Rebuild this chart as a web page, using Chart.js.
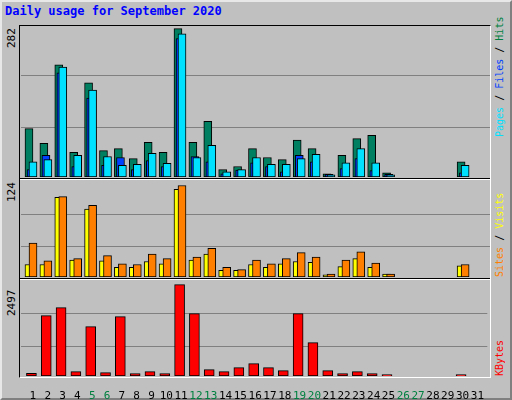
<!DOCTYPE html>
<html>
<head>
<meta charset="utf-8">
<script src="https://cdn.jsdelivr.net/npm/chart.js@4"></script>
<style>
  body { margin: 0; background: #fff; }
  #wrap { position: absolute; left: 0; top: 0; width: 508px; height: 396px; background: #c0c0c0;
          border-left: 2px solid #e8e8e8; border-top: 2px solid #e8e8e8; border-right: 2px solid #808080; border-bottom: 2px solid #808080; }
  #frame { position: absolute; left: 19px; top: 25px; width: 470px; height: 351px;
           border-left: 1px solid #000; border-top: 1px solid #000; border-right: 1px solid #fff; border-bottom: 1px solid #fff; }
  .sep { position: absolute; left: 20px; width: 470px; height: 1px; background: #fff; }
  .sep2 { position: absolute; left: 20px; width: 470px; height: 1px; background: #000; }
  canvas { position: absolute; }
  .txt { position: absolute; font-family: "DejaVu Sans Mono", monospace; font-size: 10px; white-space: nowrap;
         transform-origin: 0 0; transform: rotate(-90deg); }
  #title { position: absolute; left: 5px; top: 4px; font: bold 12px "DejaVu Sans Mono", monospace; color: #0000ff; }
</style>
</head>
<body>
<div id="wrap"></div>
<div id="frame"></div>
<div class="sep2" style="top:178px"></div><div class="sep" style="top:179px"></div>
<div class="sep2" style="top:278px"></div><div class="sep" style="top:279px"></div>
<div id="title">Daily usage for September 2020</div>
<div class="txt" style="left:5px;top:48px;font-size:11px">282</div>
<div class="txt" style="left:5px;top:202px;font-size:11px">124</div>
<div class="txt" style="left:5px;top:316px;font-size:11px">2497</div>
<div class="txt" style="left:494px;top:137px"><span style="color:#00e0ff">Pages</span> / <span style="color:#0040ff">Files</span> / <span style="color:#008040">Hits</span></div>
<div class="txt" style="left:494px;top:277px"><span style="color:#ff8000">Sites</span> / <span style="color:#ffff00">Visits</span></div>
<div class="txt" style="left:494px;top:376px;color:#ff0000">KBytes</div>
<canvas id="c1" width="469" height="151" style="left:21px;top:26px"></canvas>
<canvas id="c2" width="469" height="97" style="left:21px;top:180px"></canvas>
<canvas id="c3" width="469" height="120" style="left:21px;top:280px"></canvas>
<script>
const days = [1,2,3,4,5,6,7,8,9,10,11,12,13,14,15,16,17,18,19,20,21,22,23,24,25,26,27,28,29,30,31];
const weekend = [5,6,12,13,19,20,26,27];
const hits  = [92,64,213,47,179,50,54,35,66,47,282,66,106,14,20,54,37,33,70,54,6,41,73,79,8,0,0,0,0,29,0];
const files = [14,41,198,20,150,22,37,14,31,20,263,39,29,6,13,27,20,10,41,29,5,16,35,12,5,0,0,0,0,8,0];
const pages = [29,33,209,41,165,39,22,24,45,26,272,37,60,10,14,37,24,24,35,43,4,27,54,27,4,0,0,0,0,22,0];
const visits = [17,17,108,23,92,22,13,13,21,18,119,23,31,9,9,17,13,18,21,20,3,14,25,13,4,0,0,0,0,15,0];
const sites  = [46,22,109,25,97,29,18,17,31,25,124,27,39,13,10,23,18,25,33,27,4,23,34,19,4,0,0,0,0,17,0];
const kbytes = [73,1649,1868,118,1348,91,1622,64,118,64,2497,1704,173,118,228,337,228,146,1704,911,146,64,118,64,36,0,0,0,0,36,0];
const grid1 = [94,192], grid2 = [41,85], grid3 = [811,1704];

function pts(vals, off) {
  return days.map((d, i) => ({ x: d + off, y: vals[i] > 0 ? vals[i] : null }));
}
// order: the higher one is drawn first (behind)
function ds(vals, off, color, w, order) {
  return { data: pts(vals, off), backgroundColor: color, borderColor: '#000', borderWidth: 1,
           borderSkipped: false, barThickness: w, grouped: false, order: order };
}
function make(id, sets, ymax, gridVals, withLabels) {
  const x = { type: 'linear', offset: false, min: 0.195, max: 31.67, display: withLabels,
              grid: { display: false }, border: { display: false } };
  if (withLabels) {
    x.afterBuildTicks = s => { s.ticks = days.map(d => ({ value: d })); };
    x.afterFit = s => { s.height = 24; };
    x.ticks = { autoSkip: false, maxRotation: 0, padding: 6, font: { family: 'DejaVu Sans Mono', size: 11 },
                color: c => weekend.includes(c.tick.value) ? '#008040' : '#000' };
  }
  new Chart(document.getElementById(id), {
    type: 'bar',
    data: { datasets: sets },
    options: {
      responsive: false, animation: false, devicePixelRatio: 1,
      layout: { padding: 0 },
      plugins: { legend: { display: false }, tooltip: { enabled: false } },
      scales: {
        x: x,
        y: { min: 0, max: ymax, display: true, ticks: { display: false },
             afterBuildTicks: s => { s.ticks = gridVals.map(v => ({ value: v })); },
             afterFit: s => { s.width = 0; },
             border: { display: false }, grid: { color: '#808080', lineWidth: 1, drawTicks: false } }
      }
    }
  });
}
make('c1', [ds(hits, -0.27, '#008060', 8, 3), ds(files, -0.13, '#0040ff', 8, 2), ds(pages, 0, '#00e0ff', 8, 1)], 287, grid1, false);
make('c2', [ds(visits, -0.27, '#ffff00', 8, 2), ds(sites, 0, '#ff8000', 8, 1)], 131.5, grid2, false);
make('c3', [ds(kbytes, -0.1, '#ff0000', 10, 1)], 2623, grid3, true);
</script>
</body>
</html>
